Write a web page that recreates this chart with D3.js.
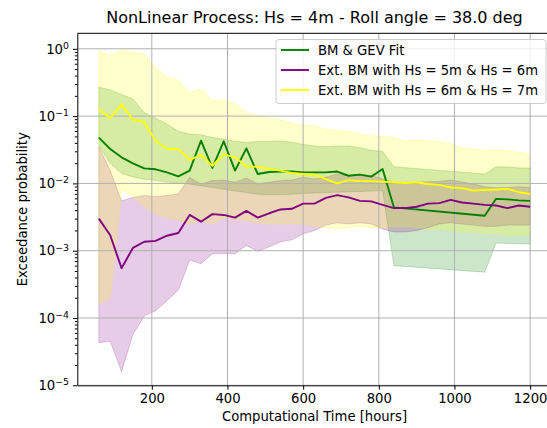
<!DOCTYPE html>
<html>
<head>
<meta charset="utf-8">
<script src="https://cdnjs.cloudflare.com/ajax/libs/d3/7.8.5/d3.min.js"></script>
<style>
  body { margin: 0; background: #fff; }
  svg text { font-family: "DejaVu Sans", sans-serif; fill: #000; }
</style>
</head>
<body>
<div id="chart"></div>
<script>
// Computational time [hours]
var hours = [60,90,120,150,180,210,240,270,300,330,360,390,420,450,480,510,540,570,600,630,
             660,690,720,750,780,810,840,870,900,930,960,990,1020,1050,1080,1110,1140,1170,1200];

// BM & GEV Fit (no estimate between 870 and 1050 h)
var bmGev = [0.048,0.0325,0.0244,0.0199,0.0167,0.0162,0.0146,0.0127,0.0155,0.0432,
             0.017,0.0422,0.0155,0.0332,0.0138,0.0148,0.0150,0.0150,0.0146,0.0146,
             0.0146,0.0150,0.0130,0.0135,0.0126,0.0164,0.0044,null,null,null,
             null,null,null,null,0.0033,0.0059,0.0058,0.0056,0.0055];
var bmGevHigh = [0.268,0.245,0.209,0.180,0.113,0.093,0.0766,0.0594,0.0543,0.053,
                 0.048,0.0457,0.0422,0.0407,0.042,0.042,0.043,0.041,0.038,0.036,
                 0.035,0.036,0.036,0.034,0.031,0.030,0.0177,null,null,null,
                 null,null,null,null,0.0138,0.0177,0.0175,0.0170,0.0169];
var bmGevLow = [0.036,0.020,0.014,0.0125,0.0115,0.011,0.0105,0.010,0.0098,0.0092,
                0.0087,0.0082,0.0077,0.0073,0.0069,0.0068,0.0068,0.0069,0.0071,0.0072,
                0.0073,0.0074,0.0075,0.0076,0.0077,0.0078,0.0006,null,null,null,
                null,null,null,null,0.00048,0.0013,0.00128,0.00127,0.00126];

// Ext. BM with Hs = 5m & Hs = 6m
var ext56 = [0.0030,0.0017,0.00055,0.0011,0.00136,0.0014,0.00167,0.00183,0.0034,0.0027,
             0.0035,0.0034,0.0031,0.0039,0.0031,0.0036,0.0041,0.0042,0.0050,0.0050,
             0.0061,0.0067,0.0062,0.0055,0.0054,0.0048,0.0043,0.0043,0.0045,0.0050,
             0.0051,0.0057,0.0052,0.0050,0.0048,0.0047,0.0043,0.0047,0.0045];
var ext56High = [0.035,0.0155,0.0055,0.0062,0.0066,0.0064,0.0066,0.007,0.0123,0.0098,
                 0.011,0.0112,0.0104,0.012,0.0098,0.0104,0.011,0.0112,0.0123,0.0116,
                 0.0123,0.0138,0.013,0.0138,0.013,0.0116,0.0104,0.0100,0.0104,0.0106,
                 0.0107,0.0112,0.0105,0.0098,0.0089,0.0086,0.0087,0.0089,0.0087];
var ext56Low = [4.3e-5,4.5e-5,1.6e-5,5.7e-5,1.07e-4,1.28e-4,1.8e-4,2.6e-4,7.3e-4,6.4e-4,
                9.0e-4,9.1e-4,9.0e-4,1.2e-3,9.8e-4,1.14e-3,1.35e-3,1.45e-3,1.78e-3,2.0e-3,
                2.4e-3,2.6e-3,2.5e-3,2.6e-3,2.5e-3,2.1e-3,1.9e-3,1.9e-3,2.0e-3,2.2e-3,
                2.5e-3,2.6e-3,2.5e-3,2.4e-3,2.3e-3,2.3e-3,2.4e-3,2.4e-3,2.4e-3];

// Ext. BM with Hs = 6m & Hs = 7m
var ext67 = [0.125,0.094,0.148,0.089,0.081,0.043,0.0325,0.0325,0.0223,0.0265,
             0.0183,0.027,0.0244,0.0178,0.0177,0.0164,0.0155,0.0143,0.0138,0.0135,
             0.0116,0.0100,0.0112,0.0108,0.0108,0.0106,0.0104,0.0101,0.0104,0.0098,
             0.0095,0.0087,0.0085,0.0078,0.0080,0.0081,0.0083,0.0074,0.0070];
var ext67High = [0.94,0.79,0.97,0.89,0.84,0.53,0.38,0.34,0.226,0.254,
                 0.17,0.174,0.152,0.112,0.101,0.094,0.088,0.079,0.074,0.072,
                 0.064,0.061,0.059,0.054,0.051,0.050,0.048,0.043,0.044,0.043,
                 0.042,0.039,0.034,0.0325,0.031,0.031,0.031,0.029,0.027];
var ext67Low = [1.6e-4,2.0e-4,8.5e-3,6.3e-3,4.5e-3,3.6e-3,3.1e-3,2.9e-3,2.5e-3,2.8e-3,
                2.5e-3,3.1e-3,2.9e-3,2.8e-3,2.6e-3,2.5e-3,2.5e-3,2.5e-3,2.5e-3,2.3e-3,
                2.2e-3,2.1e-3,2.2e-3,2.3e-3,2.2e-3,2.2e-3,2.3e-3,2.3e-3,2.2e-3,2.1e-3,
                2.1e-3,2.0e-3,1.9e-3,1.9e-3,1.8e-3,1.8e-3,1.7e-3,1.7e-3,1.7e-3];

var seriesNames = ["BM & GEV Fit", "Ext. BM with Hs = 5m & Hs = 6m", "Ext. BM with Hs = 6m & Hs = 7m"];
var seriesColors = ["green", "purple", "yellow"];

var xTicks = [200, 400, 600, 800, 1000, 1200];
var yTicks = [1e-5, 1e-4, 1e-3, 1e-2, 1e-1, 1e0];

var series = [
  {name: seriesNames[0], color: seriesColors[0], mid: bmGev, lo: bmGevLow, hi: bmGevHigh},
  {name: seriesNames[1], color: seriesColors[1], mid: ext56, lo: ext56Low, hi: ext56High},
  {name: seriesNames[2], color: seriesColors[2], mid: ext67, lo: ext67Low, hi: ext67High}
];

//Set dimensions
var w = 547, h = 428;
var pLeft = 77.3, pRight = 551.7, pTop = 33.3, pBottom = 385.3;
var fs = "13.2px";

var x = d3.scaleLinear().domain([3, 1257]).range([pLeft, pRight]);
var y = d3.scaleLog().domain([1e-5, 1.70]).range([pBottom, pTop]);

var svg = d3.select("#chart").append("svg")
  .attr("width", w)
  .attr("height", h);

svg.append("defs").append("clipPath").attr("id", "clip")
  .append("rect")
  .attr("x", pLeft).attr("y", pTop)
  .attr("width", pRight - pLeft).attr("height", pBottom - pTop);

var plot = svg.append("g").attr("clip-path", "url(#clip)");

// Confidence bands
series.forEach(function(s) {
  var pts = hours.map(function(t, i) { return {t: t, lo: s.lo[i], hi: s.hi[i]}; })
    .filter(function(d) { return d.lo != null && d.hi != null; });
  var area = d3.area()
    .x(function(d) { return x(d.t); })
    .y0(function(d) { return y(d.lo); })
    .y1(function(d) { return y(d.hi); });
  plot.append("path")
    .attr("d", area(pts))
    .attr("fill", s.color)
    .attr("fill-opacity", 0.2)
    .attr("stroke", s.color)
    .attr("stroke-opacity", 0.2)
    .attr("stroke-width", 1);
});

// Grid
plot.selectAll(".vgrid").data(xTicks).enter().append("line")
  .attr("x1", function(d) { return x(d); }).attr("x2", function(d) { return x(d); })
  .attr("y1", pTop).attr("y2", pBottom)
  .attr("stroke", "#b0b0b0").attr("stroke-width", 1);
plot.selectAll(".hgrid").data(yTicks).enter().append("line")
  .attr("x1", pLeft).attr("x2", pRight)
  .attr("y1", function(d) { return y(d); }).attr("y2", function(d) { return y(d); })
  .attr("stroke", "#b0b0b0").attr("stroke-width", 1);

// Lines
series.forEach(function(s) {
  var pts = hours.map(function(t, i) { return {t: t, v: s.mid[i]}; })
    .filter(function(d) { return d.v != null; });
  var line = d3.line()
    .x(function(d) { return x(d.t); })
    .y(function(d) { return y(d.v); });
  plot.append("path")
    .attr("d", line(pts))
    .attr("fill", "none")
    .attr("stroke", s.color)
    .attr("stroke-width", 1.9)
    .attr("stroke-linejoin", "round");
});

// X axis
var xAxis = svg.append("g")
  .attr("transform", "translate(0," + pBottom + ")")
  .call(d3.axisBottom(x).tickValues(xTicks).tickFormat(d3.format("d"))
    .tickSize(4.4).tickPadding(4).tickSizeOuter(0));
xAxis.selectAll("text").style("font-size", fs);

// Y axis, minor ticks first
var yMinor = [];
yTicks.forEach(function(d) {
  for (var k = 2; k < 10; k++) { if (d * k < 1.70) yMinor.push(d * k); }
});
svg.append("g")
  .attr("transform", "translate(" + pLeft + ",0)")
  .call(d3.axisLeft(y).tickValues(yMinor).tickSize(2.5).tickFormat(""))
  .select(".domain").remove();

var yAxis = svg.append("g")
  .attr("transform", "translate(" + pLeft + ",0)")
  .call(d3.axisLeft(y).tickValues(yTicks).tickSize(4.4).tickPadding(4).tickSizeOuter(0));
yAxis.selectAll(".tick text")
  .text(null)
  .style("font-size", fs)
  .each(function(d) {
    var e = Math.round(Math.log10(d));
    var t = d3.select(this);
    t.append("tspan").text("10");
    t.append("tspan").attr("dy", "-0.5em").style("font-size", "9.3px")
      .text(e === 0 ? "0" : "\u2212" + (-e));
  });

// top and right spines
svg.append("line")
  .attr("x1", pLeft).attr("x2", pRight)
  .attr("y1", pTop).attr("y2", pTop)
  .attr("stroke", "#000").attr("stroke-width", 1);
svg.append("line")
  .attr("x1", pRight).attr("x2", pRight)
  .attr("y1", pTop).attr("y2", pBottom)
  .attr("stroke", "#000").attr("stroke-width", 1);

//Title
svg.append("text")
  .attr("x", (pLeft + pRight) / 2)
  .attr("y", 23)
  .attr("text-anchor", "middle")
  .style("font-size", "16px")
  .text("NonLinear Process: Hs = 4m - Roll angle = 38.0 deg");

//Axis labels
svg.append("text")
  .attr("x", (pLeft + pRight) / 2)
  .attr("y", 421)
  .attr("text-anchor", "middle")
  .style("font-size", fs)
  .text("Computational Time [hours]");

svg.append("text")
  .attr("transform", "translate(27," + ((pTop + pBottom) / 2) + ") rotate(-90)")
  .attr("text-anchor", "middle")
  .style("font-size", fs)
  .text("Exceedance probability");

//Legend
var legend = svg.append("g");
legend.append("rect")
  .attr("x", 276).attr("y", 39.5)
  .attr("width", 270).attr("height", 64)
  .attr("rx", 3)
  .attr("fill", "#fff").attr("fill-opacity", 0.8)
  .attr("stroke", "#cccccc").attr("stroke-width", 1);
series.forEach(function(s, i) {
  var ly = 50 + i * 20;
  legend.append("line")
    .attr("x1", 281).attr("x2", 309)
    .attr("y1", ly).attr("y2", ly)
    .attr("stroke", s.color).attr("stroke-width", 1.9);
  legend.append("text")
    .attr("x", 318).attr("y", ly)
    .attr("dy", "0.35em")
    .style("font-size", fs)
    .text(s.name);
});
</script>
</body>
</html>
